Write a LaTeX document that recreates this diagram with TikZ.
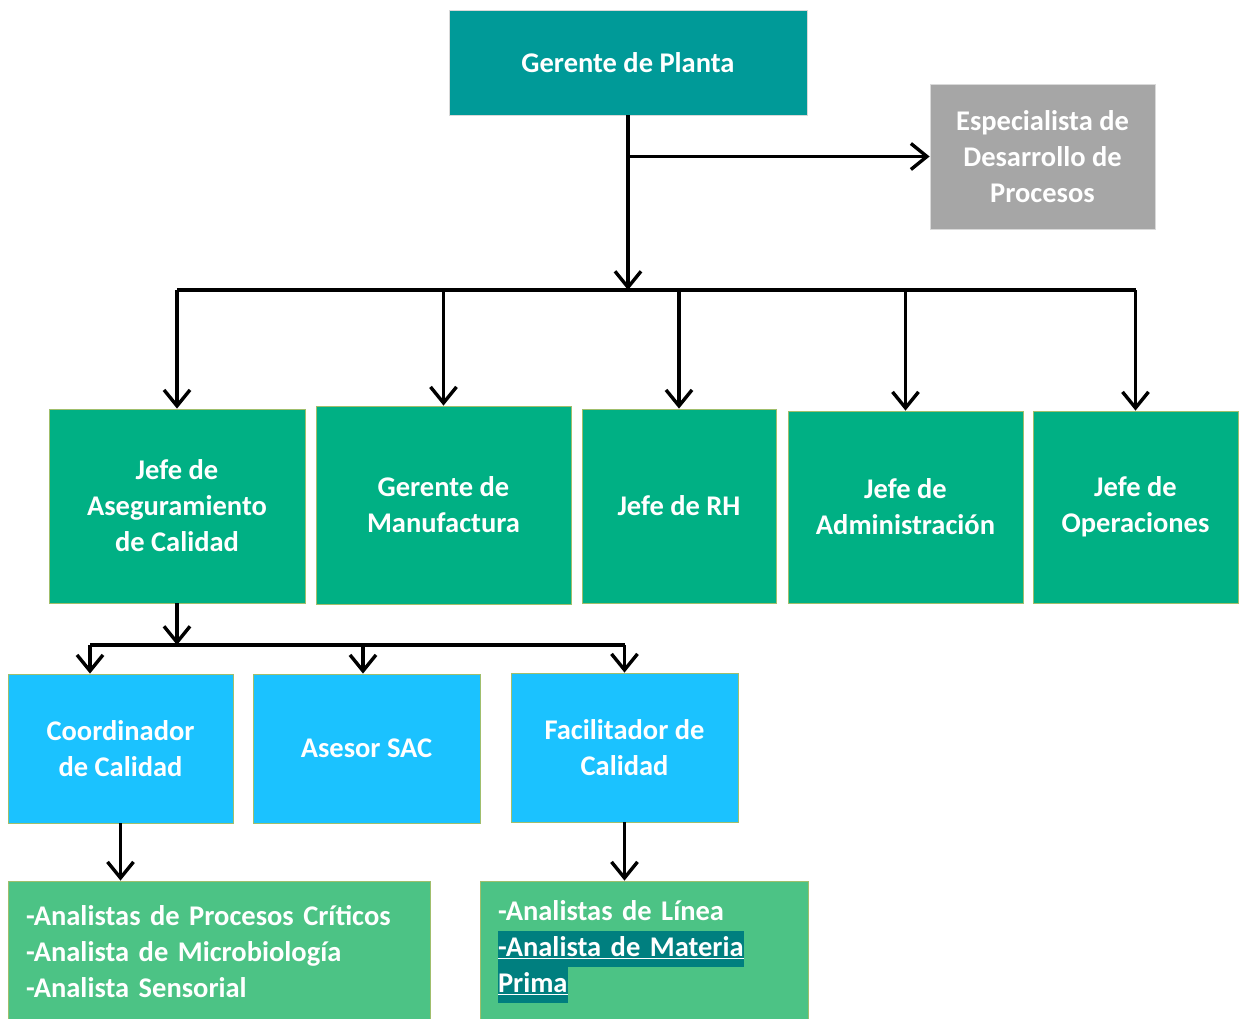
\documentclass[tikz,border=0pt]{standalone}
\usepackage{fontspec}
\setmainfont{Carlito}
\usetikzlibrary{arrows.meta}
\definecolor{cTop}{HTML}{009A98}
\definecolor{cGray}{HTML}{A6A6A6}
\definecolor{cGreen}{HTML}{00B084}
\definecolor{cCyan}{HTML}{1BC2FF}
\definecolor{cLight}{HTML}{4CC385}
\definecolor{cHl}{HTML}{007F7F}
\definecolor{cEdge}{HTML}{A0BE6C}
\newcommand\hlt[1]{{\setlength{\fboxsep}{0pt}\colorbox{cHl}{\strut\underline{#1}}}}
\begin{document}
\begin{tikzpicture}[x=1pt,y=-1pt,
  box/.style={draw=cEdge, line width=0.8pt, inner sep=4pt, align=center, text=white,
    font=\fontsize{28.5}{36}\selectfont\bfseries},
  listbox/.style={box, align=left, text width=#1, inner xsep=18pt},
  conn/.style={line width=3.4pt, -{Straight Barb[length=16pt,width=26pt,line width=3.4pt]}},
  bus/.style={line width=3.4pt}]
\useasboundingbox (0,0) rectangle (1240,1019);
\fill[white] (0,0) rectangle (1240,1019);

\node[box, fill=cTop, draw=black!15, minimum width=358pt, minimum height=105pt] (gp) at (628,62.5) {Gerente de Planta};
\node[box, fill=cGray, draw=black!15, minimum width=225pt, minimum height=145pt] (esp) at (1042.5,156.5) {Especialista de\\Desarrollo de\\Procesos};

\node[box, fill=cGreen, minimum width=256pt, minimum height=194pt] (ja) at (177,506) {Jefe de\\Aseguramiento\\de Calidad};
\node[box, fill=cGreen, minimum width=255pt, minimum height=198pt] (gm) at (443.5,505) {Gerente de\\Manufactura};
\node[box, fill=cGreen, minimum width=194pt, minimum height=194pt] (rh) at (679,506) {Jefe de RH};
\node[box, fill=cGreen, minimum width=235pt, minimum height=192pt] (adm) at (905.5,507) {Jefe de\\Administración};
\node[box, fill=cGreen, minimum width=205pt, minimum height=192pt] (op) at (1135.5,507) {Jefe de\\Operaciones};

\node[box, fill=cCyan, minimum width=225pt, minimum height=149pt] (co) at (120.5,748.5) {Coordinador\\de Calidad};
\node[box, fill=cCyan, minimum width=227pt, minimum height=149pt] (as) at (366.5,748.5) {Asesor SAC};
\node[box, fill=cCyan, minimum width=227pt, minimum height=149pt] (fa) at (624.5,747.5) {Facilitador de\\Calidad};

\node[listbox=386pt, fill=cLight, minimum height=142pt] (bl) at (219,952) {-Analistas de Procesos Críticos\\-Analista de Microbiología\\-Analista Sensorial};
\node[listbox=292pt, fill=cLight, minimum height=142pt, inner ysep=4pt] (br) at (644,952) {-Analistas de Línea\\\hlt{-Analista de Materia}\\\hlt{Prima}\\[2pt]};

% level 1 connectors
\coordinate (busy) at (0,290);
\draw[conn] (gp.south) -- (gp.south |- busy);
\draw[conn] (gp.south |- esp.west) -- (esp.west);
\draw[bus] (ja.north |- busy) -- (op.north |- busy);
\foreach \n in {ja,gm,rh,adm,op}
  \draw[conn] (\n.north |- busy) -- (\n.north);

% level 2 connectors
\coordinate (bus2) at (0,645);
\coordinate (d1) at (90,645);
\coordinate (d2) at (363,645);
\draw[conn] (ja.south) -- (ja.south |- bus2);
\draw[bus] (d1) -- (fa.north |- bus2);
\draw[conn] (d1) -- (d1 |- co.north);
\draw[conn] (d2) -- (d2 |- as.north);
\draw[conn] (fa.north |- bus2) -- (fa.north);

% level 3 connectors
\draw[conn] (co.south) -- (co.south |- bl.north);
\draw[conn] (fa.south) -- (fa.south |- br.north);
\end{tikzpicture}
\end{document}
